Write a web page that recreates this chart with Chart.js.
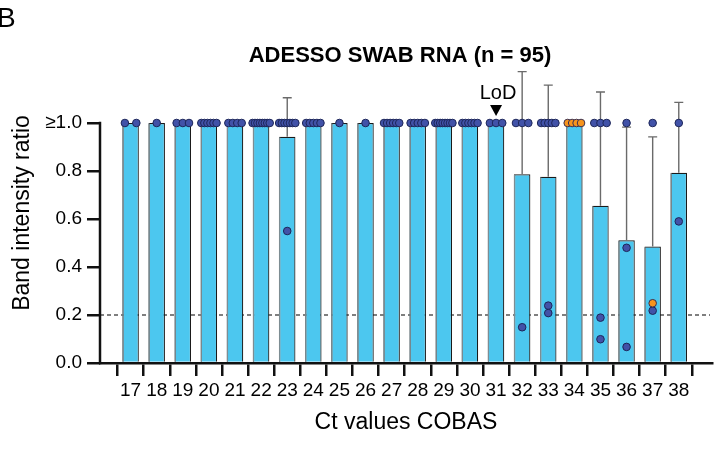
<!DOCTYPE html>
<html>
<head>
<meta charset="utf-8">
<title>ADESSO SWAB RNA</title>
<script src="https://cdn.jsdelivr.net/npm/chart.js"></script>
<style>
  html, body { margin: 0; padding: 0; background: #ffffff; }
  #wrap { width: 717px; height: 451px; position: relative; }
</style>
</head>
<body>
<div id="wrap"><canvas id="bandChart"></canvas></div>
<script>
// ===================================
// Band intensity ratio per COBAS Ct value
// ===================================

const ctLabels = ['17', '18', '19', '20', '21', '22', '23', '24', '25', '26', '27',
                  '28', '29', '30', '31', '32', '33', '34', '35', '36', '37', '38'];

// mean ratio per Ct (bar height) and SD (upper whisker)
const meanRatio = [1.0, 1.0, 1.0, 1.0, 1.0, 1.0, 0.943, 1.0, 1.0, 1.0, 1.0,
                   1.0, 1.0, 1.0, 1.0, 0.786, 0.776, 1.0, 0.655, 0.511, 0.485, 0.793];
const sdRatio = [0, 0, 0, 0, 0, 0, 0.162, 0, 0, 0, 0,
                 0, 0, 0, 0, 0.428, 0.382, 0, 0.474, 0.472, 0.457, 0.293];

// individual samples (values >= 1 are plotted at 1.0)
const blueSamples = [
    [1, 1],
    [1],
    [1, 1, 1],
    [1, 1, 1, 1, 1, 1],
    [1, 1, 1, 1],
    [1, 1, 1, 1, 1, 1, 1, 1],
    [1, 1, 1, 1, 1, 1, 1, 0.55],
    [1, 1, 1, 1, 1],
    [1],
    [1],
    [1, 1, 1, 1, 1, 1],
    [1, 1, 1, 1, 1],
    [1, 1, 1, 1, 1, 1, 1, 1],
    [1, 1, 1, 1, 1, 1],
    [1, 1, 1],
    [1, 1, 1, 0.149],
    [1, 1, 1, 1, 1, 0.239, 0.208],
    [],
    [1, 1, 1, 0.189, 0.099],
    [1, 0.48, 0.067],
    [1, 0.218],
    [1, 0.59]
];
const orangeSamples = [
    [], [], [], [], [], [], [], [], [], [], [],
    [], [], [], [], [], [], [1, 1, 1, 1], [], [], [0.249], []
];

const yTickValues = [0, 0.2, 0.4, 0.6, 0.8, 1.0];
const yTickLabels = ['0.0', '0.2', '0.4', '0.6', '0.8', '\u22651.0'];

const chartTitle = 'ADESSO SWAB RNA (n = 95)';
const panelLetter = 'B';
const cutoffRatio = 0.2;
const lodCt = '31';
const lodLabel = 'LoD';

const FONT = "'Liberation Sans', Arial, Helvetica, sans-serif";

// spread samples sharing the same value across the bar
function jitter(samples) {
    const pts = [];
    samples.forEach((vals, i) => {
        const groups = {};
        vals.forEach(v => { (groups[v] = groups[v] || []).push(v); });
        Object.keys(groups).forEach(key => {
            const n = groups[key].length;
            const spread = n > 1 ? (10 + n) / 27.4 : 0;
            groups[key].forEach((v, k) => {
                const off = n > 1 ? -spread / 2 + spread * k / (n - 1) : 0;
                pts.push({ x: i + off, y: v });
            });
        });
    });
    return pts;
}

// axis line, cutoff, error bars, annotations
const decorPlugin = {
    id: 'decor',
    afterDatasetDraw(chart, args) {
        if (args.index !== 0) return;
        const ctx = chart.ctx;
        const y = chart.scales.y;
        const bars = args.meta.data;
        ctx.save();
        // soft left edge on each bar
        ctx.strokeStyle = '#7d8d93';
        ctx.lineWidth = 1.3;
        bars.forEach(bar => {
            const lx = bar.x - bar.width / 2 + 0.6;
            ctx.beginPath();
            ctx.moveTo(lx, bar.y + 0.6);
            ctx.lineTo(lx, bar.base);
            ctx.stroke();
        });
        // SD whiskers (upper only)
        ctx.strokeStyle = '#6a6a6a';
        ctx.lineWidth = 1.4;
        bars.forEach((bar, i) => {
            if (!sdRatio[i]) return;
            const y1 = y.getPixelForValue(meanRatio[i]);
            const y2 = y.getPixelForValue(meanRatio[i] + sdRatio[i]);
            ctx.beginPath();
            ctx.moveTo(bar.x, y1);
            ctx.lineTo(bar.x, y2);
            ctx.moveTo(bar.x - 4.5, y2);
            ctx.lineTo(bar.x + 4.5, y2);
            ctx.stroke();
        });
        ctx.restore();
    },
    beforeDatasetsDraw(chart) {
        const { ctx, chartArea, scales: { y } } = chart;
        ctx.save();
        // cutoff line
        const cy = y.getPixelForValue(cutoffRatio);
        ctx.setLineDash([4, 3]);
        ctx.strokeStyle = '#000';
        ctx.lineWidth = 1.2;
        ctx.beginPath();
        ctx.moveTo(chartArea.left, cy);
        ctx.lineTo(chartArea.right - 2, cy);
        ctx.stroke();
        ctx.restore();
    },
    afterDraw(chart) {
        const { ctx, chartArea, scales: { x, y } } = chart;
        ctx.save();
        // y axis line from 0 to 1.0
        ctx.strokeStyle = '#111';
        ctx.lineWidth = 2.5;
        ctx.beginPath();
        ctx.moveTo(chartArea.left, y.getPixelForValue(0) + 1.25);
        ctx.lineTo(chartArea.left, y.getPixelForValue(1.0) - 1.25);
        ctx.stroke();

        // LoD marker
        const lx = x.getPixelForValue(ctLabels.indexOf(lodCt));
        const top = y.getPixelForValue(1.0);
        ctx.fillStyle = '#000';
        ctx.beginPath();
        ctx.moveTo(lx - 6, top - 18);
        ctx.lineTo(lx + 6, top - 18);
        ctx.lineTo(lx, top - 7);
        ctx.closePath();
        ctx.fill();
        ctx.font = '20px ' + FONT;
        ctx.textAlign = 'center';
        ctx.textBaseline = 'middle';
        ctx.fillText(lodLabel, lx + 2, top - 30);

        // title
        ctx.font = 'bold 22px ' + FONT;
        ctx.fillText(chartTitle, 400, 56);

        // panel letter
        ctx.font = '28px ' + FONT;
        ctx.textAlign = 'left';
        ctx.textBaseline = 'alphabetic';
        ctx.fillText(panelLetter, -3, 27);
        ctx.restore();
    }
};

let bandChart = null;

function initBandChart() {
    const ctx = document.getElementById('bandChart');
    if (bandChart) bandChart.destroy();

    bandChart = new Chart(ctx, {
        type: 'bar',
        data: {
            datasets: [
                {
                    label: 'Mean',
                    data: meanRatio.map((m, i) => ({ x: i, y: m })),
                    backgroundColor: '#4cc7ef',
                    borderColor: '#1a1a1a',
                    borderWidth: 1.2,
                    borderSkipped: 'bottom',
                    barPercentage: 0.63,
                    categoryPercentage: 1.0,
                    order: 3
                },
                {
                    type: 'scatter',
                    label: 'Samples',
                    data: jitter(blueSamples),
                    backgroundColor: '#4152a8',
                    borderColor: '#1d2659',
                    borderWidth: 1,
                    pointRadius: 3.8,
                    clip: false,
                    order: 2
                },
                {
                    type: 'scatter',
                    label: 'Samples (orange)',
                    data: jitter(orangeSamples),
                    backgroundColor: '#f7941d',
                    borderColor: '#3a3050',
                    borderWidth: 1,
                    pointRadius: 3.8,
                    clip: false,
                    order: 1
                }
            ]
        },
        options: {
            responsive: true,
            maintainAspectRatio: false,
            animation: false,
            layout: { padding: { top: 63, right: 4, left: 0, bottom: 0 } },
            plugins: {
                legend: { display: false },
                title: { display: false },
                tooltip: { enabled: false }
            },
            scales: {
                x: {
                    type: 'linear',
                    min: -0.64,
                    max: 21.74,
                    afterBuildTicks: (scale) => {
                        scale.ticks = ctLabels.map((_, i) => ({ value: i }));
                    },
                    afterFit: (scale) => { scale.height = 88; },
                    grid: {
                        drawOnChartArea: false,
                        drawTicks: true,
                        tickLength: 13,
                        color: '#111',
                        lineWidth: 2.5
                    },
                    border: { display: true, color: '#111', width: 2.5 },
                    ticks: {
                        autoSkip: false,
                        maxRotation: 0,
                        padding: 3,
                        color: '#000',
                        font: { family: FONT, size: 19 },
                        callback: (value) => ctLabels[value]
                    },
                    title: {
                        display: true,
                        text: 'Ct values COBAS',
                        color: '#000',
                        font: { family: FONT, size: 23 },
                        padding: { top: 0, bottom: 15 }
                    }
                },
                y: {
                    min: 0,
                    max: 1.25,
                    afterBuildTicks: (scale) => {
                        scale.ticks = yTickValues.map(v => ({ value: v }));
                    },
                    afterFit: (scale) => { scale.width = 100; },
                    grid: {
                        drawOnChartArea: false,
                        drawTicks: true,
                        tickLength: 13,
                        color: '#111',
                        lineWidth: 2.5
                    },
                    border: { display: false },
                    ticks: {
                        padding: 5,
                        color: '#000',
                        font: { family: FONT, size: 19 },
                        callback: (value, index) => yTickLabels[index]
                    },
                    title: {
                        display: true,
                        text: 'Band intensity ratio',
                        color: '#000',
                        font: { family: FONT, size: 23 },
                        padding: { top: 9, bottom: 0 }
                    }
                }
            }
        },
        plugins: [decorPlugin]
    });
}

initBandChart();
</script>
</body>
</html>
